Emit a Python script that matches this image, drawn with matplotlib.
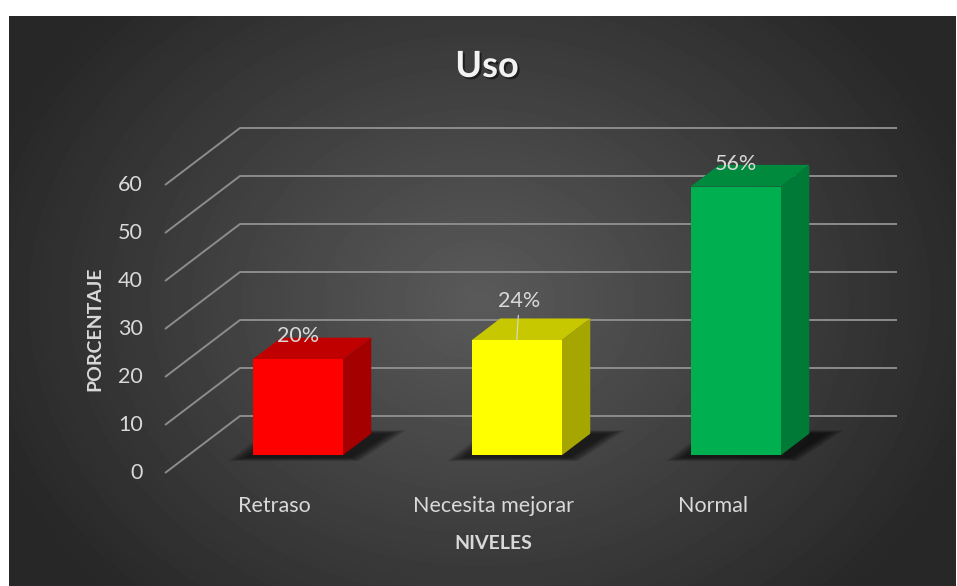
import numpy as np
import matplotlib.pyplot as plt
from matplotlib.patches import Polygon
from matplotlib import patheffects

categorias = ["Retraso", "Necesita mejorar", "Normal"]
porcentajes = [20, 24, 56]
etiquetas = ["20%", "24%", "56%"]
ticks_y = [0, 10, 20, 30, 40, 50, 60]

frente = ["#FF0000", "#FFFF00", "#00B050"]
lado = ["#A50000", "#A6A600", "#007A37"]
techo = ["#C00000", "#C8C800", "#008A3E"]

W, H = 957, 586
plt.rcParams['font.family'] = ['Lato', 'DejaVu Sans']

fig = plt.figure(figsize=(W / 100, H / 100), dpi=100)
fig.patch.set_facecolor('white')

# fondo con degradado radial
bg = fig.add_axes([9 / W, 0, 947 / W, 570 / H])
yy, xx = np.mgrid[0:570, 0:947]
t = np.hypot((xx - 470) / 520, (yy - 284) / 420)
val = 0x5a - (0x5a - 0x27) * np.clip(t, 0, 1)
bg.imshow(val, cmap='gray', vmin=0, vmax=255, aspect='auto', interpolation='bilinear')
bg.axis('off')

# ejes principales: x = categoria, y = valor (plano frontal)
ax = fig.add_axes([0, 0, 1, 1])
ax.patch.set_alpha(0)
PX_CAT, PX_VAL = 219, 4.8
ax.set_xlim((0 - 165) / PX_CAT - 0.5, (W - 165) / PX_CAT - 0.5)
ax.set_ylim(-113 / PX_VAL, (H - 113) / PX_VAL)
ax.axis('off')

DX, DV = 75 / PX_CAT, 57 / PX_VAL   # vector de profundidad
d0, d1 = 0.31, 0.69
wb = 90 / PX_CAT


def proy(x, v, d):
    return (x + d * DX, v + d * DV)


# lineas de division
for v in ticks_y:
    ax.plot([-0.5, -0.5 + DX, 2.5 + DX], [v, v + DV, v + DV],
            color='#8c8c8c', lw=1.4, solid_capstyle='butt', zorder=1)
    ax.text((143 - 165) / PX_CAT - 0.5, v, str(v), ha='right', va='center',
            color='#D9D9D9', fontsize=15.5)

xs = np.arange(len(categorias))
for i, (x, p) in enumerate(zip(xs, porcentajes)):
    xl, xr = x - wb / 2, x + wb / 2
    # sombra difusa
    for e in np.linspace(0.06, 0.0, 10):
        pts = [proy(xl - 0.02 - e, 0, d0 - 0.04 - e), proy(xr + 0.05 + e, 0, d0 - 0.04 - e),
               proy(xr + 0.08 + e, 0, d1 + e), proy(xl - 0.02 - e, 0, d1 + e)]
        ax.add_patch(Polygon(pts, closed=True, facecolor='black', edgecolor='none',
                             alpha=0.08, zorder=2))
    # cara frontal
    ax.bar(x + d0 * DX, p, bottom=d0 * DV, width=wb, color=frente[i], zorder=4)
    # cara lateral
    ax.add_patch(Polygon([proy(xr, 0, d0), proy(xr, 0, d1), proy(xr, p, d1), proy(xr, p, d0)],
                         closed=True, facecolor=lado[i], edgecolor='none', zorder=3))
    # cara superior
    ax.add_patch(Polygon([proy(xl, p, d0), proy(xr, p, d0), proy(xr, p, d1), proy(xl, p, d1)],
                         closed=True, facecolor=techo[i], edgecolor='none', zorder=3))
    # etiqueta de datos
    desp = (2.5, 33) if i == 1 else (0, 17)
    flecha = dict(arrowstyle='-', color='#D9D9D9', lw=0.8, shrinkA=1, shrinkB=0) if i == 1 else None
    ax.annotate(etiquetas[i], xy=proy(x, p, d0), xytext=desp, textcoords='offset pixels',
                ha='center', va='baseline', color='#D9D9D9', fontsize=15.5,
                arrowprops=flecha, zorder=6)
    # categoria
    ax.text(x, (473 - 512) / PX_VAL, categorias[i], ha='center', va='baseline',
            color='#D9D9D9', fontsize=15.5)

ax.text(1, (473 - 549) / PX_VAL, "NIVELES", ha='center', va='baseline',
        color='#D9D9D9', fontsize=14, fontweight='bold')
ax.text((95 - 165) / PX_CAT - 0.5, 30, "PORCENTAJE", ha='center', va='center',
        rotation=90, color='#D9D9D9', fontsize=14, fontweight='bold')

fig.text(487 / W, (H - 77) / H, "Uso", ha='center', va='baseline', color='#F2F2F2',
         fontsize=26, fontweight='bold',
         path_effects=[patheffects.SimplePatchShadow(offset=(1.5, -1.5), shadow_rgbFace='black', alpha=0.5),
                       patheffects.Normal()])

fig.savefig('out.png', dpi=100)
